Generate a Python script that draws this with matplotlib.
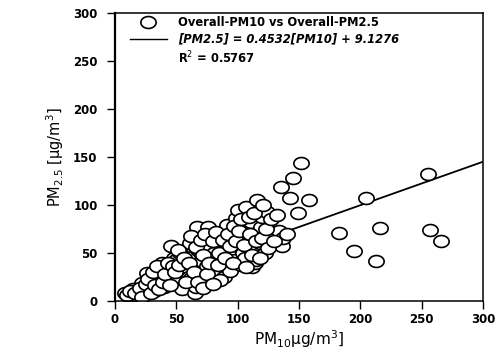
import numpy as np
import matplotlib
matplotlib.use("Agg")
import matplotlib.pyplot as plt
from matplotlib.path import Path
from matplotlib.lines import Line2D

plt.rcParams['font.family'] = ['DejaVu Sans']
plt.rcParams['mathtext.fontset'] = 'custom'
plt.rcParams['mathtext.rm'] = 'DejaVu Sans'
plt.rcParams['mathtext.it'] = 'DejaVu Sans:italic'
plt.rcParams['mathtext.bf'] = 'DejaVu Sans:bold'

# ---- data ----
pm10 = [8, 13, 19, 22, 26, 28, 15, 18, 24, 30, 32, 35, 37, 38, 40, 42, 44, 46, 48, 50,
        50, 53, 54, 55, 57, 59, 60, 61, 62, 63, 65, 66, 67, 68, 69, 70, 71, 72, 74, 75,
        76, 77, 78, 79, 81, 82, 83, 84, 86, 87, 88, 89, 90, 91, 91, 93, 94, 95, 96, 98,
        99, 100, 100, 102, 103, 104, 105, 106, 107, 108, 110, 111, 112, 114, 115, 115, 116, 117, 118, 119,
        120, 122, 124, 126, 130, 134, 135, 136, 137, 143, 145, 149, 152, 158,
        10, 12, 16, 20, 22, 25, 27, 29, 31, 33, 34, 36, 39, 41, 43, 45, 47, 49, 51, 52,
        56, 58, 60, 62, 64, 66, 68, 70, 72, 73, 75, 77, 80, 82, 84, 85, 86, 88, 90, 92,
        94, 96, 97, 99, 101, 103, 105, 107, 109, 110, 112, 113, 115, 118, 120, 121, 123, 125, 127, 130,
        132, 140, 72, 80,
        183, 195, 205, 213, 216, 255, 257, 266]
pm25 = [8, 4, 10, 19, 29, 14, 12, 5, 7, 20, 10, 25, 27, 40, 15, 33, 22, 57, 45, 43,
        22, 50, 31, 12, 38, 35, 25, 60, 24, 46, 8, 15, 77, 53, 36, 50, 42, 28, 63, 36,
        77, 58, 20, 45, 50, 33, 29, 66, 71, 55, 43, 25, 60, 79, 36, 48, 31, 68, 52, 43,
        86, 95, 57, 63, 38, 50, 75, 45, 98, 66, 55, 82, 35, 40, 53, 43, 105, 70, 60, 77,
        88, 50, 93, 65, 72, 73, 119, 57, 66, 107, 128, 92, 144, 105,
        6, 10, 8, 14, 4, 18, 23, 8, 30, 17, 36, 12, 20, 28, 40, 17, 36, 30, 53, 38,
        45, 20, 40, 68, 30, 56, 20, 64, 48, 70, 28, 40, 62, 72, 38, 50, 22, 64, 45, 70,
        57, 40, 78, 62, 73, 85, 58, 35, 88, 70, 48, 92, 62, 45, 66, 100, 75, 55, 85, 62,
        90, 70, 14, 18,
        71, 52, 107, 42, 76, 132, 74, 62]

slope = 0.4532
intercept = 9.1276
r2 = 0.5767
fit_x = [5, 300]

x_ticks = [0, 50, 100, 150, 200, 250, 300]
y_ticks = [0, 50, 100, 150, 200, 250, 300]

# elliptical marker (wider than tall)
t = np.linspace(0, 2 * np.pi, 60)
ell = Path(np.column_stack([np.cos(t), 0.78 * np.sin(t)]), closed=True)

fig = plt.figure(figsize=(4.99, 3.56), dpi=100)
ax = fig.add_axes([115 / 499, 1 - 301 / 356, 368 / 499, 288 / 356])

fy = [slope * v + intercept for v in fit_x]
ax.plot(fit_x, fy, color='black', lw=1.3, zorder=1)
ax.plot(pm10, pm25, linestyle='none', marker=ell, markersize=11,
        markerfacecolor='white', markeredgecolor='black', markeredgewidth=1.2, zorder=2)

ax.set_xlim(0, 300)
ax.set_ylim(0, 300)
ax.set_xticks(x_ticks)
ax.set_yticks(y_ticks)
ax.tick_params(direction='out', length=5.5, width=1, labelsize=8.5, pad=7)
ax.tick_params(axis='x', pad=3)
for lab in ax.get_xticklabels() + ax.get_yticklabels():
    lab.set_fontweight('bold')
for s in ax.spines.values():
    s.set_linewidth(1.1)
ax.spines['left'].set_linewidth(1.6)

ax.set_xlabel('PM$_{10}$µg/m$^{3}$]', fontsize=11, labelpad=2)
ax.set_ylabel('PM$_{2.5}$ [µg/m$^{3}$]', fontsize=10.5, labelpad=5)

h1 = Line2D([], [], linestyle='none', marker=ell, markersize=11,
            markerfacecolor='white', markeredgecolor='black', markeredgewidth=1.2)
h2 = Line2D([], [], color='black', lw=1.0)
h3 = Line2D([], [], linestyle='none')
leg = ax.legend([h1, h2, h3],
                ['Overall-PM10 vs Overall-PM2.5',
                 '[PM2.5] = 0.4532[PM10] + 9.1276',
                 'R$^{2}$ = 0.5767'],
                loc='upper left', bbox_to_anchor=(0.04, 0.99), frameon=False,
                borderpad=0, borderaxespad=0, handlelength=3.2, handletextpad=1.0,
                labelspacing=0.35, prop={'size': 8.3, 'weight': 'bold'})
leg.get_texts()[1].set_style('italic')

fig.savefig('out.png', dpi=100)
